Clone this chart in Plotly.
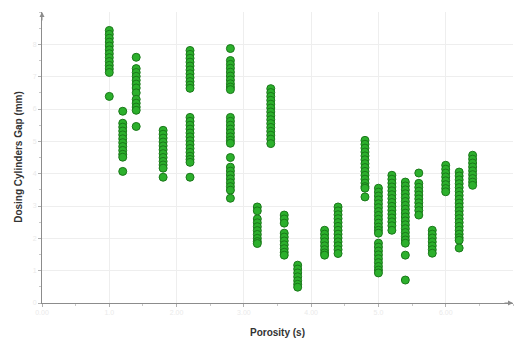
import plotly.graph_objects as go

# Porosity setting of each measurement column
porosity = [1.0, 1.2, 1.4, 1.8, 2.2, 2.8, 3.2, 3.4, 3.6, 3.8, 4.2,
            4.4, 4.8, 5.0, 5.2, 5.4, 5.6, 5.8, 6.0, 6.2, 6.4]

# Dosing cylinders gap readings recorded at each porosity setting
gap_10 = [8.43, 8.31, 8.19, 8.07, 7.95, 7.83, 7.71, 7.59, 7.47, 7.35, 7.24, 7.13, 6.39]
gap_12 = [5.93, 5.56, 5.44, 5.32, 5.2, 5.08, 4.96, 4.84, 4.72, 4.6, 4.51, 4.07]
gap_14 = [7.6, 7.25, 7.13, 7.01, 6.89, 6.77, 6.65, 6.5, 6.3, 6.18, 6.06, 5.96, 5.46]
gap_18 = [5.34, 5.22, 5.1, 4.98, 4.86, 4.74, 4.62, 4.5, 4.38, 4.27, 4.17, 3.89]
gap_22 = [7.81, 7.69, 7.57, 7.45, 7.33, 7.21, 7.09, 6.97, 6.85, 6.74, 6.64,
          5.74, 5.62, 5.5, 5.38, 5.26, 5.14, 5.02, 4.9, 4.78, 4.66, 4.54, 4.44, 4.35, 3.89]
gap_28 = [7.87, 7.5, 7.38, 7.26, 7.14, 7.02, 6.9, 6.78, 6.68, 6.6,
          5.74, 5.62, 5.5, 5.38, 5.26, 5.14, 5.03, 4.94,
          4.5, 4.2, 4.08, 3.96, 3.84, 3.72, 3.6, 3.49, 3.24]
gap_32 = [2.97, 2.85, 2.6, 2.48, 2.36, 2.24, 2.12, 2.0, 1.9, 1.84]
gap_34 = [6.63, 6.51, 6.39, 6.27, 6.15, 6.03, 5.91, 5.79, 5.67, 5.55, 5.43, 5.31, 5.19, 5.07, 4.93]
gap_36 = [2.72, 2.6, 2.47, 2.16, 2.04, 1.92, 1.8, 1.68, 1.57, 1.48]
gap_38 = [1.17, 1.05, 0.93, 0.81, 0.69, 0.58, 0.49]
gap_42 = [2.25, 2.13, 2.01, 1.89, 1.77, 1.65, 1.55, 1.48]
gap_44 = [2.97, 2.85, 2.73, 2.61, 2.49, 2.37, 2.25, 2.13, 2.01, 1.89, 1.77, 1.65, 1.53]
gap_48 = [5.03, 4.91, 4.79, 4.67, 4.55, 4.43, 4.31, 4.19, 4.07, 3.95, 3.83, 3.71, 3.6, 3.55, 3.28]
gap_50 = [3.55, 3.43, 3.31, 3.19, 3.07, 2.95, 2.83, 2.71, 2.59, 2.47, 2.35, 2.25, 2.16,
          1.85, 1.73, 1.61, 1.49, 1.37, 1.25, 1.13, 1.02, 0.93]
gap_52 = [3.95, 3.83, 3.71, 3.59, 3.47, 3.35, 3.23, 3.11, 2.99, 2.87, 2.75, 2.63, 2.51, 2.39, 2.25]
gap_54 = [3.74, 3.62, 3.5, 3.38, 3.26, 3.14, 3.02, 2.9, 2.78, 2.66, 2.54, 2.42, 2.3,
          2.18, 2.06, 1.95, 1.85, 1.48, 0.71]
gap_56 = [4.02, 3.7, 3.58, 3.46, 3.34, 3.22, 3.1, 2.98, 2.86, 2.72]
gap_58 = [2.25, 2.13, 2.01, 1.89, 1.77, 1.65, 1.54]
gap_60 = [4.26, 4.14, 4.02, 3.9, 3.78, 3.66, 3.54, 3.44]
gap_62 = [4.05, 3.93, 3.81, 3.69, 3.57, 3.45, 3.33, 3.21, 3.09, 2.97, 2.85, 2.73, 2.61,
          2.49, 2.37, 2.25, 2.13, 2.02, 1.94, 1.7]
gap_64 = [4.57, 4.45, 4.33, 4.21, 4.09, 3.97, 3.85, 3.74, 3.64]

gap_columns = [gap_10, gap_12, gap_14, gap_18, gap_22, gap_28, gap_32, gap_34, gap_36,
               gap_38, gap_42, gap_44, gap_48, gap_50, gap_52, gap_54, gap_56, gap_58,
               gap_60, gap_62, gap_64]

# Axis tick labels
x_ticks = [0, 1, 2, 3, 4, 5, 6]
x_tick_text = ["0.00", "1.0", "2.00", "3.00", "4.00", "5.0", "6.00"]
y_ticks = [0, 1, 2, 3, 4, 5, 6, 7, 8]
y_tick_text = ["0", "1", "2", "3", "4", "5", "6", "7", "8"]

xs, ys = [], []
for p, col in zip(porosity, gap_columns):
    xs.extend([p] * len(col))
    ys.extend(col)

fig = go.Figure()
fig.add_trace(go.Scatter(
    x=xs, y=ys, mode="markers",
    marker=dict(size=8, color="#2cb02c", line=dict(color="#1a781a", width=1)),
    showlegend=False,
))

axis_common = dict(
    showline=True, linecolor="#8c8c8c", linewidth=1,
    gridcolor="#eeeeee", gridwidth=1, zeroline=False,
    ticks="outside", ticklen=3, tickcolor="#b0b0b0",
    tickfont=dict(size=7, color="#eaeaea", family="Arial"),
    minor=dict(ticks="outside", ticklen=2, tickcolor="#c8c8c8", dtick=0.5, showgrid=False),
)

fig.update_layout(
    width=518, height=338,
    margin=dict(l=42, r=5, t=12, b=35),
    paper_bgcolor="white", plot_bgcolor="white",
    xaxis=dict(range=[0, 7], tickvals=x_ticks, ticktext=x_tick_text, **axis_common),
    yaxis=dict(range=[0, 9], tickvals=y_ticks, ticktext=y_tick_text, **axis_common),
    annotations=[
        dict(text="<b>Porosity (s)</b>", xref="paper", yref="paper", x=0.5, y=-0.102,
             showarrow=False, yanchor="middle",
             font=dict(size=10, color="#333333", family="Liberation Sans Narrow, Arial Narrow, Arial")),
        dict(text="<b>Dosing Cylinders Gap (mm)</b>", xref="paper", yref="paper",
             x=-0.049, y=0.502, xanchor="center", yanchor="middle", textangle=-90,
             showarrow=False,
             font=dict(size=10, color="#333333", family="Arial")),
        # arrowheads at the ends of both axes
        dict(x=7, y=0, xref="x", yref="y", ax=-10, ay=0, showarrow=True,
             arrowhead=2, arrowsize=1, arrowwidth=1, arrowcolor="#8c8c8c", text=""),
        dict(x=0, y=9, xref="x", yref="y", ax=0, ay=10, showarrow=True,
             arrowhead=2, arrowsize=1, arrowwidth=1, arrowcolor="#8c8c8c", text=""),
    ],
)

fig.write_html("out.html")
